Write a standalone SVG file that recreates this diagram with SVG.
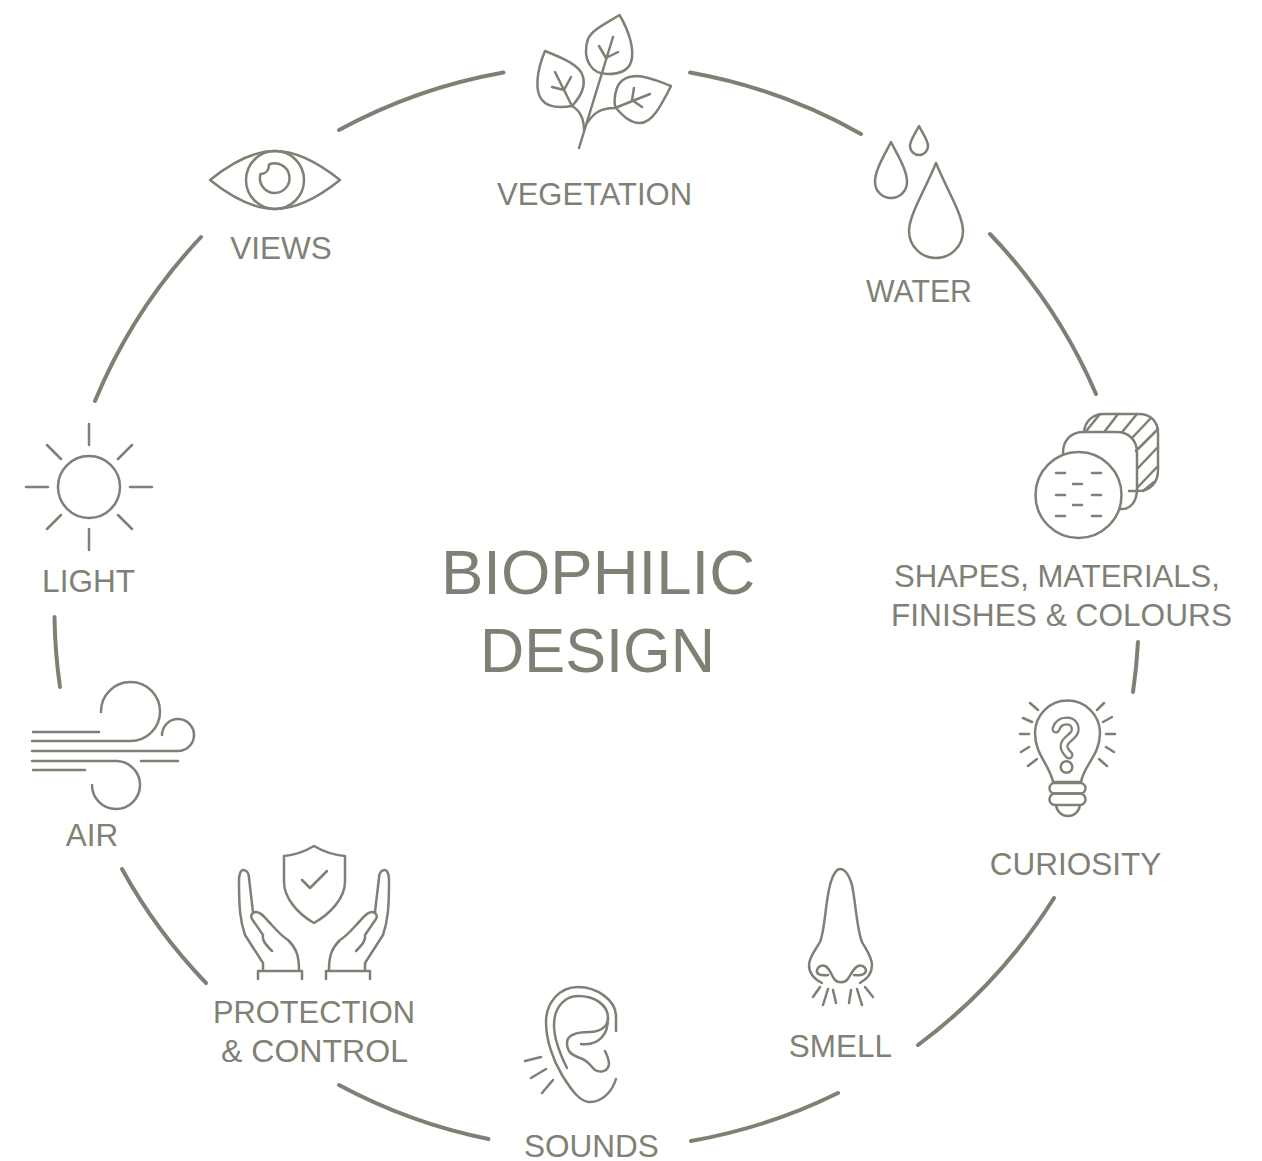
<svg xmlns="http://www.w3.org/2000/svg" xmlns:xlink="http://www.w3.org/1999/xlink" width="1262" height="1161" viewBox="0 0 1262 1161">
<style>
.i{fill:none;stroke:#7f8074;stroke-width:2.5;stroke-linecap:round;stroke-linejoin:round}
.a{fill:none;stroke:#7f8074;stroke-width:4;stroke-linecap:round}
.t{font-family:"Liberation Sans",Arial,sans-serif;font-size:31.500px;fill:#808175;text-anchor:middle}
.h{font-family:"Liberation Sans",Arial,sans-serif;font-size:63.500px;fill:#7f8074;text-anchor:middle}
</style>
<rect width="1262" height="1161" fill="#fff"/>
<g id="connectors" class="a">
<path d="M339 130A542 542 0 0 1 503.500 72.500"/>
<path d="M690 72.500A542 542 0 0 1 861 134"/>
<path d="M990 234A542 542 0 0 1 1096 394"/>
<path d="M1138 642A542 542 0 0 1 1133 692"/>
<path d="M1054 898A542 542 0 0 1 918 1045"/>
<path d="M838 1093A542 542 0 0 1 691 1141"/>
<path d="M488.500 1139A542 542 0 0 1 339 1085"/>
<path d="M206 983A542 542 0 0 1 122 869"/>
<path d="M60 687A542 542 0 0 1 54.500 617"/>
<path d="M95 401A542 542 0 0 1 201 237"/>
</g>
<g id="center"><text class="h" x="598" y="594" textLength="314">BIOPHILIC</text><text class="h" x="597.500" y="672" textLength="235" lengthAdjust="spacingAndGlyphs">DESIGN</text></g>
<g id="vegetation">
<g class="i">
<path d="M619.500 15C605 24 592 30 588 39C585 47 585 58 590 65C594 72 602 74 608 74C618 74 628 71 631 62C635 50 629 31 619.500 15Z"/>
<path d="M545 51C560 57 575 63 581 72C586 81 584 93 572 106C560 108 548 108 542 100C535 92 536 72 545 51Z"/>
<path d="M671 86C660 82 650 77 638 76C627 76 620 80 617 88C614 96 614 105 616 108C623 116 630 123 640 123C652 123 661 106 671 86Z"/>
<path d="M579 148L613 37M599 46L606 58L618 52"/>
<path d="M555 72L572 106M571 77L564 90L552 87"/>
<path d="M572 106C579 110 584 118 584 130"/>
<path d="M587 123C594 113 600 108 615 108L650 94M634 88L632 100L642 107"/>
</g></g>
<g id="water" class="i">
<path d="M936 163C925 190 909 215 909 231A27 27 0 0 0 963 231C963 215 947 190 936 163Z"/>
<path d="M891 142C884 156 875 170 875 182A16 16 0 0 0 907 182C907 170 898 156 891 142Z"/>
<path d="M919 126C915 134 910 140 910 146A9 9 0 0 0 928 146C928 140 923 134 919 126Z"/>
</g>
<g id="shapes" class="i">
<path d="M1084 432C1085 421 1093 414 1104 414H1139C1151 414 1158 422 1158 433V470C1158 482 1151 491 1138 491H1129"/>
<path d="M1063 453C1063 440 1071 432 1084 432H1116C1129 432 1137 440 1137 453V489C1137 502 1130 510 1120 509"/>
<circle cx="1078.500" cy="495" r="43"/>
<path d="M1056 473H1065M1092 473H1101M1073 484H1082M1056 495H1065M1092 495H1101M1073 505H1082M1056 516H1065M1092 516H1101"/>
<path d="M1087 430L1100 414M1105 431L1118 414M1123 431L1137 414M1132 438L1151 418M1136 451L1158 429M1137 469L1158 447M1137 488L1158 466M1143 491L1154 482"/>
</g>
<g id="curiosity" class="i">
<path d="M1053 782C1050 765 1035 755 1035 733A32.500 32.500 0 1 1 1100 733C1100 755 1084 765 1081 782Z"/>
<rect x="1049.500" y="783" width="36" height="10.500" rx="5.200"/>
<rect x="1049.500" y="793.500" width="36" height="11.500" rx="5.500"/>
<path d="M1056 805C1057 812 1062 816 1068 816C1074 816 1079 812 1080 805"/>
<path d="M1056 729C1058 722 1063 721 1067 721C1073 721 1076 726 1075 731C1074 737 1064 739 1064 746C1064 750 1067 753 1069 755" style="stroke-width:9"/>
<path d="M1056 729C1058 722 1063 721 1067 721C1073 721 1076 726 1075 731C1074 737 1064 739 1064 746C1064 750 1067 753 1069 755" style="stroke:#fff;stroke-width:4.500"/>
<circle cx="1066.500" cy="767" r="5.800"/>
<path d="M1030 703L1038 710M1023 718L1032 722M1020 734H1029M1021 752L1029 747M1028 766L1037 759M1104 703L1097 710M1112 717L1103 722M1115 734H1106M1114 752L1106 747M1107 766L1099 759"/>
</g>
<g id="smell" class="i">
<path d="M822 983C812 978 809 972 809 965C809 957 816 949 820 942C825 930 825 905 830 885C833 874 837 869 840 869C845 869 849 875 852 885C856 905 857 930 862 942C866 949 872 957 872 965C872 972 869 978 860 983"/>
<path d="M828 975C820 976 816 974 817 970C818 966 822 965 825 966C830 968 832 977 835 980C838 983 844 983 847 980C850 977 853 968 858 966C861 965 865 966 866 970C866 974 862 976 854 975"/>
<path d="M813 997L820 987M823 1005L828 989M836 1003L833 990M849 1003L851 990M862 1005L857 989M873 997L865 987"/>
</g>
<g id="sounds" class="i">
<path d="M616 1031V1015C615 1000 597 987 578 987C560 987 546 1002 546 1022C546 1040 553 1060 562 1075C572 1091 580 1102 590 1102C602 1102 612 1092 616 1079"/>
<path d="M567 1068C560 1054 554 1040 554 1025C554 1007 565 996 578 996C595 996 608 1005 608 1018C608 1028 598 1032 590 1032C580 1032 567 1033 567 1043C567 1052 572 1055 580 1058C588 1060 590 1066 595 1070C600 1073 608 1072 609 1064C609 1059 607 1055 605 1051"/>
<path d="M581 1044C592 1045 598 1042 602 1037C607 1032 608 1025 608 1018"/>
<path d="M525 1061L541 1057M531 1078L546 1069M542 1093L553 1080"/>
</g>
<g id="protection">
<g class="i">
<path d="M314 846C304 852 294 855 284 856V882C284 898 298 914 314 923C330 914 345 898 345 882V856C334 855 324 852 314 846Z"/>
<path d="M302 880L310 888L327 871"/>
<g id="hand">
<path d="M258 979V971H302V979"/>
<path d="M263 970V963L245 935C240 920 239 908 239 880C239 874 241 870 243 870C247 870 249 874 249 878L253 912"/>
<path d="M299 970C299 955 296 948 288 940C281 936 273 926 268 921C263 915 260 912 256 912C252 912 250 916 252 919L263 935C262 940 265 944 272 951"/>
</g>
<use xlink:href="#hand" href="#hand" transform="translate(628 0) scale(-1 1)"/>
</g></g>
<g id="air" class="i">
<path d="M33 732H99M32 741H130A29.500 29.500 0 1 0 101 712M32 751H177A16 16 0 1 0 162 735M32 761H117A24 24 0 1 1 92 785M141 761H178M33 770H85"/>
</g>
<g id="light" class="i">
<circle cx="89" cy="487" r="31"/>
<path d="M89 424V445M89 529V550M26 487H48M130 487H152M47 445L61 459M132 445L118 459M47 529L61 515M132 529L118 515"/>
</g>
<g id="views" class="i">
<path d="M210 180C235 160 255 151 275 151C295 151 315 160 340 180C315 200 295 209 275 209C255 209 235 200 210 180Z"/>
<circle cx="275" cy="180" r="29"/>
<path d="M269 164.500A14.800 14.800 0 1 1 260.500 174C266 174 269 170 269 164.500Z"/>
</g>
<g id="labels">
<text class="t" x="594.500" y="205" textLength="195" lengthAdjust="spacingAndGlyphs">VEGETATION</text>
<text class="t" x="281" y="259">VIEWS</text>
<text class="t" x="919" y="302" textLength="106" lengthAdjust="spacingAndGlyphs">WATER</text>
<text class="t" x="1057" y="587" textLength="326" lengthAdjust="spacingAndGlyphs">SHAPES, MATERIALS,</text>
<text class="t" x="1061.500" y="626" textLength="341" lengthAdjust="spacingAndGlyphs">FINISHES &amp; COLOURS</text>
<text class="t" x="1075.500" y="875">CURIOSITY</text>
<text class="t" x="840.500" y="1057">SMELL</text>
<text class="t" x="591.500" y="1157">SOUNDS</text>
<text class="t" x="314" y="1023" textLength="202" lengthAdjust="spacingAndGlyphs">PROTECTION</text>
<text class="t" x="314.500" y="1062" textLength="187" lengthAdjust="spacingAndGlyphs">&amp; CONTROL</text>
<text class="t" x="92" y="846">AIR</text>
<text class="t" x="88.500" y="592">LIGHT</text>
</g>
</svg>
